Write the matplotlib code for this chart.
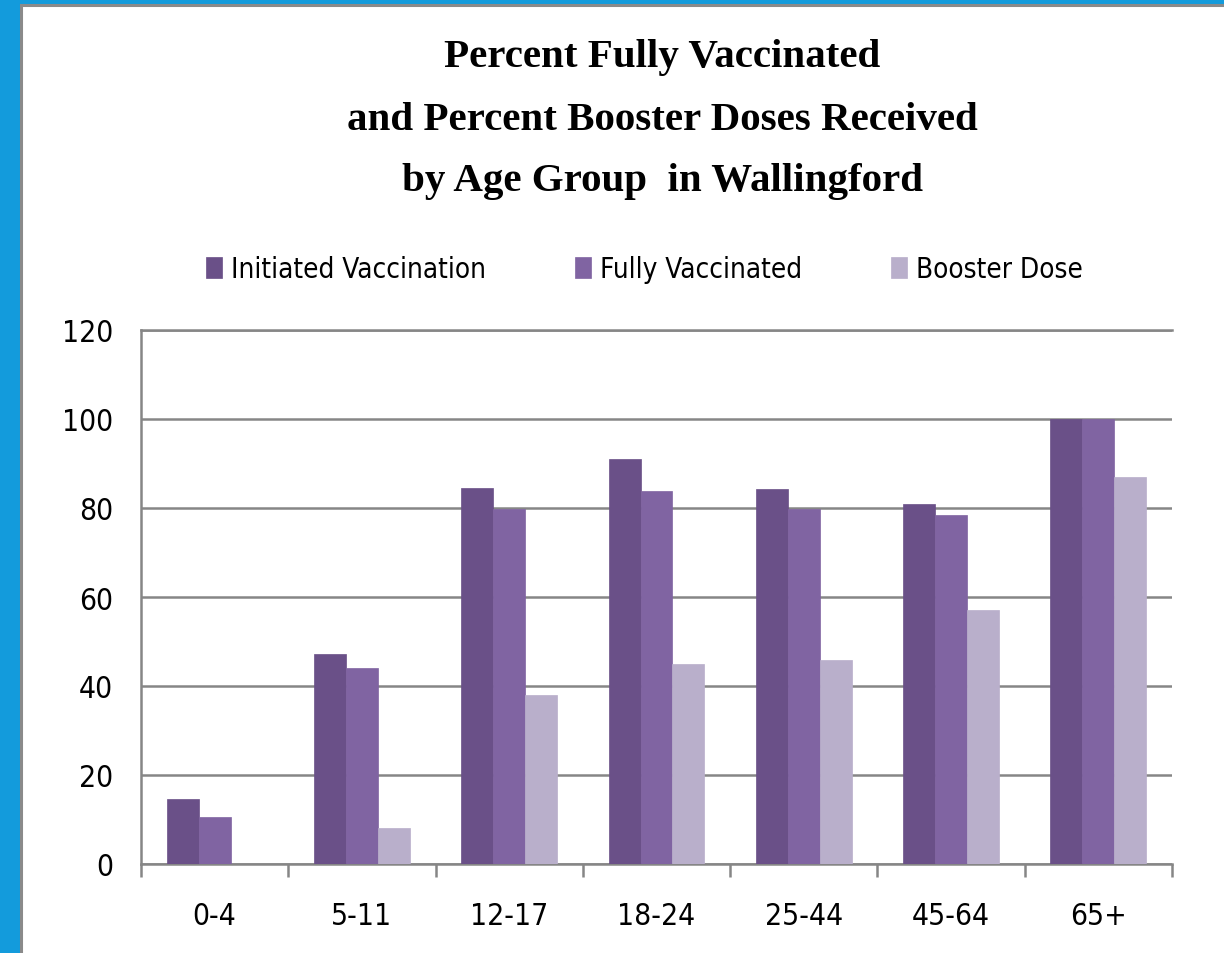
import numpy as np
import matplotlib
matplotlib.use("Agg")
import matplotlib.pyplot as plt
from matplotlib.patches import Rectangle
from matplotlib.font_manager import FontProperties

age_groups = ["0-4", "5-11", "12-17", "18-24", "25-44", "45-64", "65+"]
initiated = [14.6, 47.3, 84.6, 91.0, 84.2, 80.9, 100.0]
fully = [10.6, 44.1, 79.8, 83.8, 79.8, 78.4, 100.0]
booster = [0.0, 8.0, 38.0, 45.0, 45.8, 57.1, 87.0]
series_names = ["Initiated Vaccination", "Fully Vaccinated", "Booster Dose"]
colors = ["#6a5088", "#8064a2", "#b9afcb"]

W, H = 1224, 954
fig = plt.figure(figsize=(W / 100, H / 100), dpi=100, facecolor="#139bdc")

# white slide panel with grey frame
panel = Rectangle((20.5 / W, -0.05), 1.1, (H - 5.5) / H + 0.05,
                  transform=fig.transFigure, facecolor="white",
                  edgecolor="#8a8a8a", linewidth=2.2, zorder=-5)
fig.patches.append(panel)

serif = ["Liberation Serif", "DejaVu Serif"]
label_font = FontProperties(family="DejaVu Sans", stretch="condensed", size=21.5)
legend_font = FontProperties(family="DejaVu Sans", stretch="condensed", size=20)

# title
title_lines = ["Percent Fully Vaccinated",
               "and Percent Booster Doses Received",
               "by Age Group  in Wallingford"]
for line, yc in zip(title_lines, [58, 120, 182]):
    fig.text(662 / W, 1 - yc / H, line, ha="center", va="center",
             family=serif, fontweight="bold", fontsize=29.5)

ax = fig.add_axes([141 / W, 1 - 865 / H, (1172 - 141) / W, (865 - 331) / H])
ax.set_facecolor("none")

x = np.arange(len(age_groups))
bw = 0.217
for i, (vals, c, name) in enumerate(zip([initiated, fully, booster], colors, series_names)):
    ax.bar(x + (i - 1) * bw, vals, width=bw, color=c, label=name,
           edgecolor=c, linewidth=0.5, zorder=3)

ax.set_xlim(-0.5, len(age_groups) - 0.5)
ax.set_ylim(0, 120)
ax.set_yticks(range(0, 121, 20))
ax.set_xticks(x)
ax.set_xticklabels(age_groups)
ax.set_xticks(np.arange(-0.5, len(age_groups), 1), minor=True)

grid_c = "#868686"
ax.yaxis.grid(True, color=grid_c, linewidth=1.8, zorder=0)
ax.set_axisbelow(True)
ax.spines["right"].set_visible(False)
for s in ["left", "bottom", "top"]:
    ax.spines[s].set_color(grid_c)
    ax.spines[s].set_linewidth(1.8)

ax.tick_params(axis="y", length=0, pad=20)
ax.tick_params(axis="x", which="major", length=0, pad=27)
ax.tick_params(axis="x", which="minor", length=9, width=1.8, color=grid_c)
for lab in ax.get_xticklabels() + ax.get_yticklabels():
    lab.set_fontproperties(label_font)

leg = fig.legend(loc="center", bbox_to_anchor=(644 / W, 1 - 270 / H), ncol=3,
                 frameon=False, handlelength=0.6, handleheight=0.76,
                 handletextpad=0.3, columnspacing=3.2, prop=legend_font)

fig.savefig("out.png", dpi=100, facecolor=fig.get_facecolor())
